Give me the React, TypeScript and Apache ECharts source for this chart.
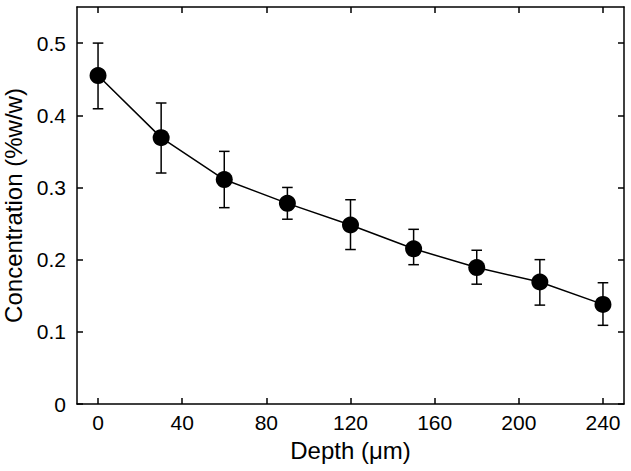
import React, { useEffect, useRef } from "react";
import * as echarts from "echarts";

const depth = [0, 30, 60, 90, 120, 150, 180, 210, 240];
const conc = [0.455, 0.369, 0.311, 0.278, 0.248, 0.215, 0.189, 0.169, 0.138];
const errUpper = [0.5, 0.417, 0.35, 0.3, 0.283, 0.242, 0.213, 0.2, 0.168];
const errLower = [0.409, 0.32, 0.272, 0.256, 0.214, 0.193, 0.166, 0.137, 0.109];
const xTicks = [0, 40, 80, 120, 160, 200, 240];
const yTicks = [0, 0.1, 0.2, 0.3, 0.4, 0.5];

const FONT = "Liberation Sans, Arial, sans-serif";

export default function App() {
  const ref = useRef<HTMLDivElement>(null);
  useEffect(() => {
    if (!ref.current) return;
    const chart = echarts.init(ref.current, null, { renderer: "svg" });
    const axisLine = { show: true, onZero: false, lineStyle: { color: "#000", width: 1.5 } };
    const tickStyle = { color: "#000", width: 1.5 };
    const xBase = {
      type: "value" as const,
      min: -10,
      max: 250,
      splitLine: { show: false },
      axisLine,
    };
    const yBase = {
      type: "value" as const,
      min: 0,
      max: 0.55,
      splitLine: { show: false },
      axisLine,
    };
    chart.setOption({
      animation: false,
      backgroundColor: "#fff",
      grid: {
        left: 77,
        top: 7,
        right: 7,
        bottom: 67,
        containLabel: false,
        outerBoundsMode: "none",
      },
      xAxis: [
        {
          ...xBase,
          position: "bottom",
          name: "Depth (μm)",
          nameLocation: "middle",
          nameGap: 34,
          nameTextStyle: { fontFamily: FONT, fontSize: 24, color: "#000" },
          axisTick: { inside: true, length: 6, lineStyle: tickStyle, customValues: xTicks },
          axisLabel: {
            customValues: xTicks,
            fontFamily: FONT,
            fontSize: 21,
            color: "#000",
            margin: 8,
          },
        },
        {
          ...xBase,
          position: "top",
          axisTick: { inside: true, length: 6, lineStyle: tickStyle, customValues: xTicks },
          axisLabel: { show: false },
        },
      ],
      yAxis: [
        {
          ...yBase,
          position: "left",
          name: "Concentration (%w/w)",
          nameLocation: "middle",
          nameGap: 49,
          nameRotate: 90,
          nameTextStyle: { fontFamily: FONT, fontSize: 24, color: "#000" },
          axisTick: { inside: true, length: 6, lineStyle: tickStyle, customValues: yTicks },
          axisLabel: {
            customValues: yTicks,
            formatter: (v: number) => String(Math.round(v * 10) / 10),
            fontFamily: FONT,
            fontSize: 21,
            color: "#000",
            margin: 11,
          },
        },
        {
          ...yBase,
          position: "right",
          axisTick: { inside: true, length: 6, lineStyle: tickStyle, customValues: yTicks },
          axisLabel: { show: false },
        },
      ],
      series: [
        {
          type: "custom",
          xAxisIndex: 0,
          yAxisIndex: 0,
          z: 1,
          data: depth.map((d, i) => [d, errLower[i], errUpper[i]]),
          renderItem: (params: any, api: any) => {
            const x = api.value(0);
            const lo = api.coord([x, api.value(1)]);
            const hi = api.coord([x, api.value(2)]);
            const w = 5.3;
            const style = { stroke: "#000", lineWidth: 1.5 };
            return {
              type: "group",
              children: [
                { type: "line", shape: { x1: hi[0], y1: hi[1], x2: lo[0], y2: lo[1] }, style },
                { type: "line", shape: { x1: hi[0] - w, y1: hi[1], x2: hi[0] + w, y2: hi[1] }, style },
                { type: "line", shape: { x1: lo[0] - w, y1: lo[1], x2: lo[0] + w, y2: lo[1] }, style },
              ],
            };
          },
        },
        {
          type: "line",
          xAxisIndex: 0,
          yAxisIndex: 0,
          z: 2,
          data: depth.map((d, i) => [d, conc[i]]),
          symbol: "circle",
          symbolSize: 17,
          itemStyle: { color: "#000" },
          lineStyle: { color: "#000", width: 1.5 },
        },
      ],
    });
    return () => chart.dispose();
  }, []);
  return (
    <div
      ref={ref}
      style={{ position: "absolute", left: 0, top: 0, width: 631, height: 471 }}
    />
  );
}
